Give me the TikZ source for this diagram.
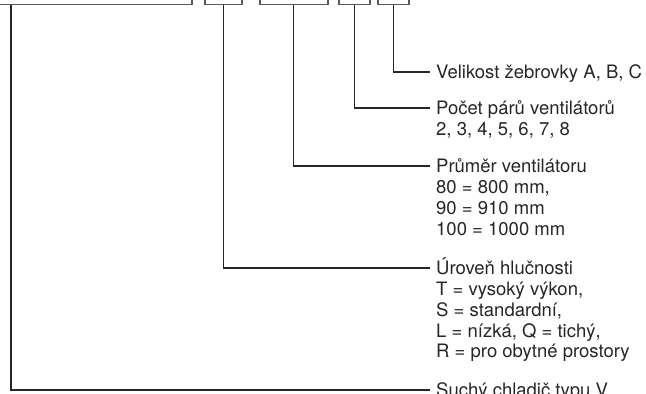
\documentclass[tikz,border=0pt]{standalone}
\usepackage{fontspec}
\setmainfont{TeX Gyre Heros}
\begin{document}
\begin{tikzpicture}[x=1pt,y=-1pt,
  box/.style={draw=black!65,line width=1.5pt,anchor=south west,minimum height=40pt,inner sep=0pt},
  conn/.style={draw=black!85,line width=1.2pt},
  lbl/.style={anchor=base west,inner sep=0pt,text=black!85,font=\fontsize{18.5}{20.8}\selectfont}]
\useasboundingbox (0,0) rectangle (646,394);
\clip (0,0) rectangle (646,394);
% boxes (tops cut off)
\node[box,minimum width=221pt] (b1) at (-30,5) {};
\node[box,minimum width=37pt]  (b2) at (204,5) {};
\node[box,minimum width=68pt]  (b3) at (259,5) {};
\node[box,minimum width=31pt]  (b4) at (338,5) {};
\node[box,minimum width=31pt]  (b5) at (377,5) {};
% labels
\node[lbl] (t5) at (436,78.6) {\vtop{\baselineskip=20.8pt\hbox{Velikost žebrovky A, B, C}}};
\node[lbl] (t4) at (436,114.6) {\vtop{\baselineskip=20.8pt\hbox{Počet párů ventilátorů}\hbox{2, 3, 4, 5, 6, 7, 8}}};
\node[lbl] (t3) at (436,172.6) {\vtop{\baselineskip=20.8pt\hbox{Průměr ventilátoru}\hbox{80 = 800 mm,}\hbox{90 = 910 mm}\hbox{100 = 1000 mm}}};
\node[lbl] (t2) at (436,274.6) {\vtop{\baselineskip=20.8pt\hbox{Úroveň hlučnosti}\hbox{T = vysoký výkon,}\hbox{S = standardní,}\hbox{L = nízká, Q = tichý,}\hbox{R = pro obytné prostory}}};
\node[lbl] (t1) at (436,396.6) {\vtop{\baselineskip=20.8pt\hbox{Suchý chladič typu V}}};
% connectors
\draw[conn] (b5.south) |- ([shift={(-6,-6.6)}]t5.base west);
\draw[conn] (b4.south) |- ([shift={(-6,-6.6)}]t4.base west);
\draw[conn] (b3.south) |- ([shift={(-6,-6.6)}]t3.base west);
\draw[conn] (b2.south) |- ([shift={(-6,-6.6)}]t2.base west);
\draw[conn] ([xshift=41pt]b1.south west) |- ([shift={(-6,-6.6)}]t1.base west);
\end{tikzpicture}
\end{document}
